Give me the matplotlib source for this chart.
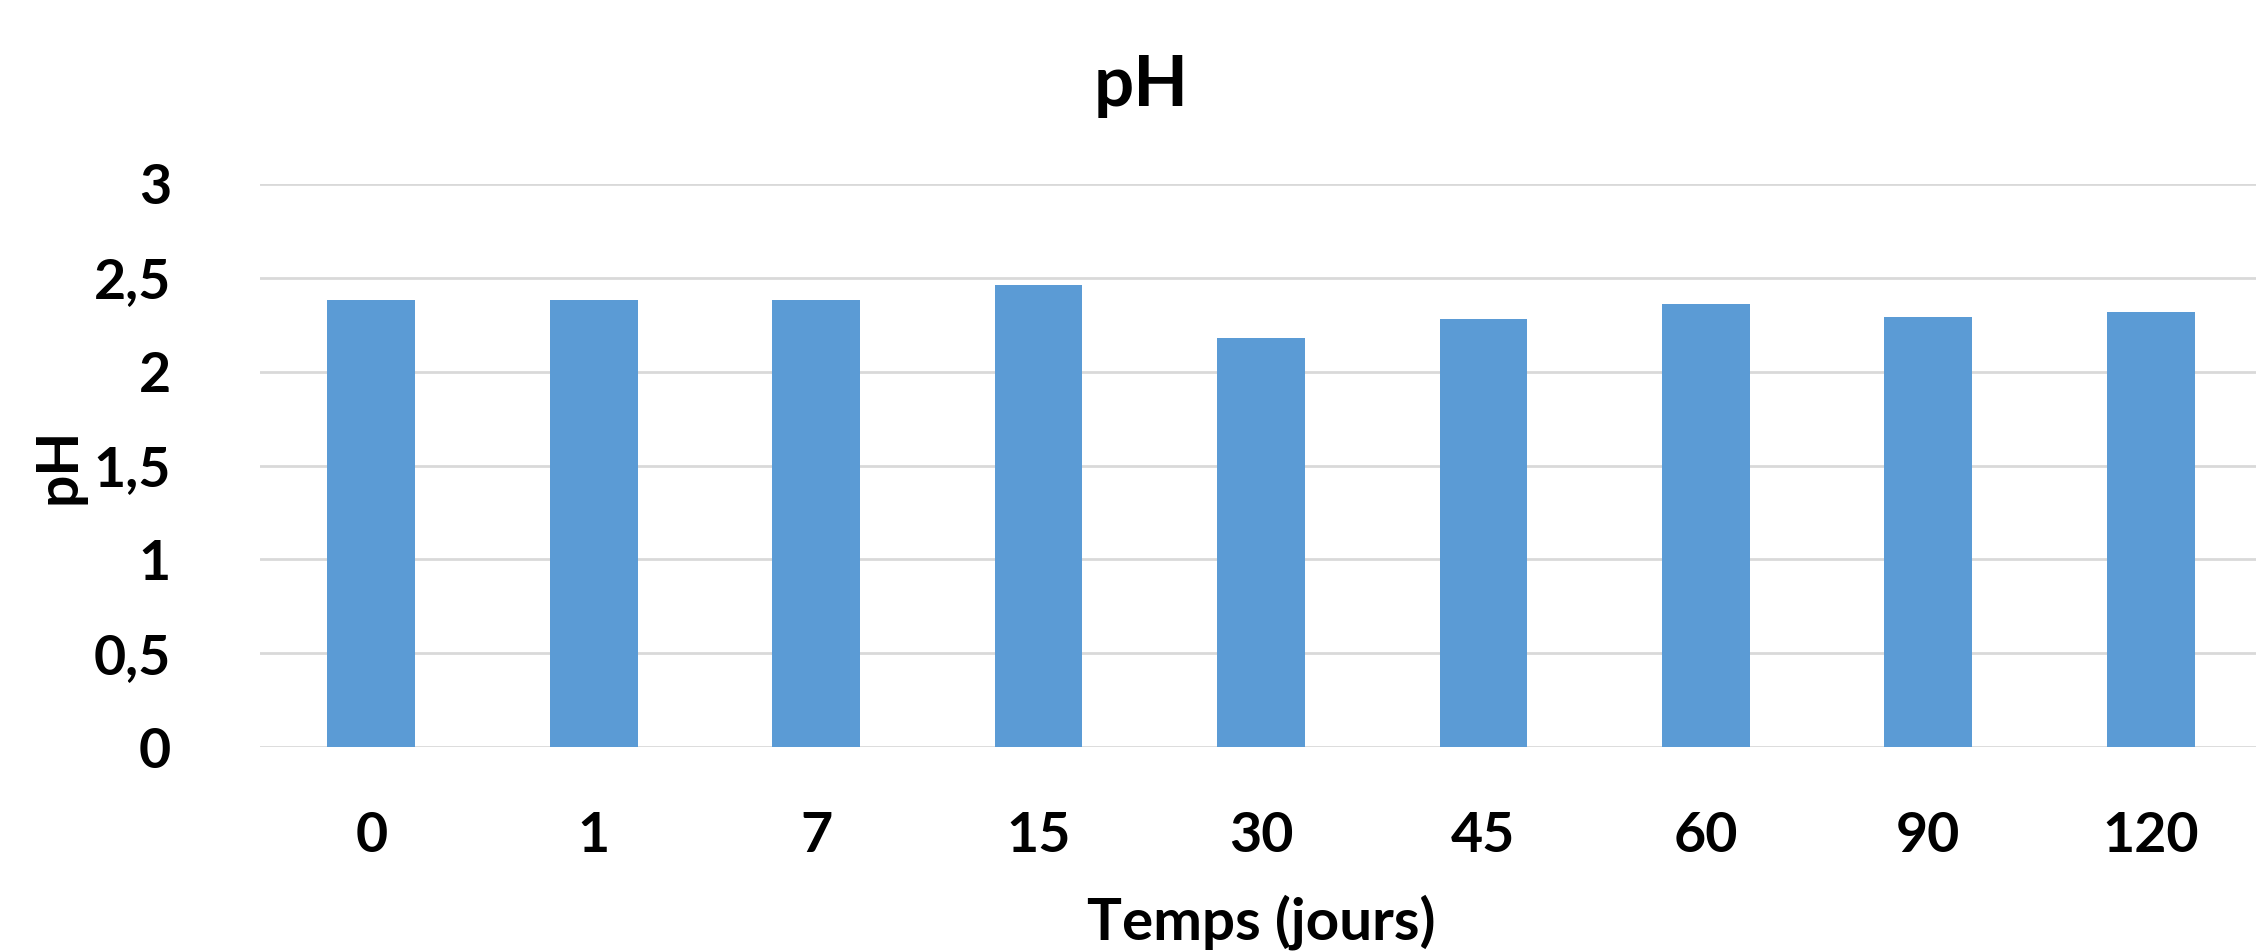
import numpy as np
import matplotlib
matplotlib.use("Agg")
import matplotlib.pyplot as plt

# valeurs
jours = ["0", "1", "7", "15", "30", "45", "60", "90", "120"]
ph = [2.38, 2.38, 2.38, 2.46, 2.18, 2.28, 2.36, 2.29, 2.32]
y_ticks = [0, 0.5, 1, 1.5, 2, 2.5, 3]
y_labels = ["0", "0,5", "1", "1,5", "2", "2,5", "3"]

plt.rcParams['font.family'] = ['Lato', 'DejaVu Sans']
plt.rcParams['font.weight'] = 'bold'

fig = plt.figure(figsize=(22.56, 9.51), dpi=100)
ax = fig.add_axes([260 / 2256, 1 - 747 / 951, 2002 / 2256, 563 / 951])

x = np.arange(len(jours))
ax.bar(x, ph, width=0.395, color='#5B9BD5', zorder=3)

ax.set_xlim(-0.5, len(jours) - 0.5)
ax.set_ylim(0, 3)
ax.set_yticks(y_ticks)
ax.set_yticklabels(y_labels)
ax.set_xticks(x)
ax.set_xticklabels(jours)
ax.tick_params(axis='both', length=0, labelsize=40)
ax.tick_params(axis='y', pad=64)
ax.tick_params(axis='x', pad=46)
for lab in ax.get_xticklabels() + ax.get_yticklabels():
    lab.set_fontweight('bold')

ax.grid(axis='y', color='#D9D9D9', linewidth=2, zorder=0)
for s in ax.spines.values():
    s.set_visible(False)

ax.set_ylabel('pH', fontsize=41, fontweight='bold')
ax.yaxis.set_label_coords(-0.087, 0.5)
ax.set_xlabel('Temps (jours)', fontsize=42, fontweight='bold')
ax.xaxis.set_label_coords(0.5, -0.262)

fig.text(1141 / 2256, 1 - 106 / 951, 'pH', fontsize=51, fontweight='bold',
         ha='center', va='baseline')

fig.savefig('out.png', dpi=100)
